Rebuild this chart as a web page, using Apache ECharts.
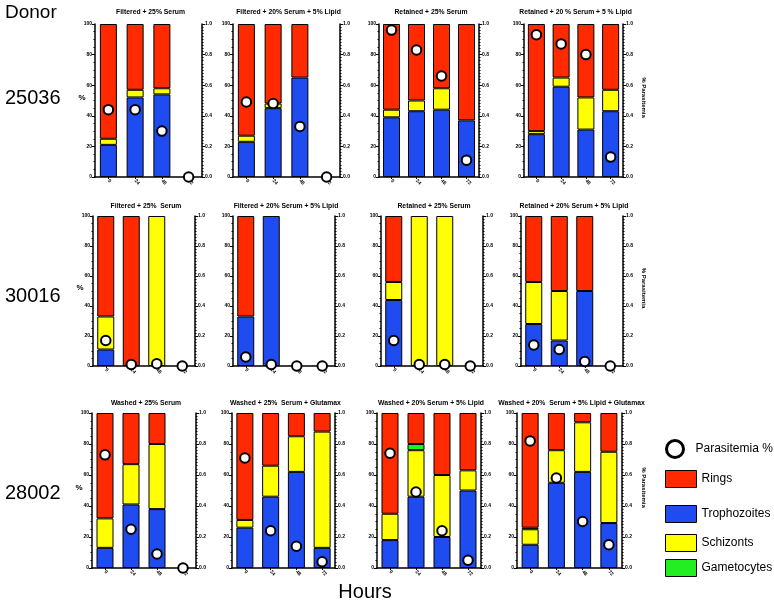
<!DOCTYPE html>
<html><head><meta charset="utf-8">
<script src="https://cdn.jsdelivr.net/npm/echarts@6/dist/echarts.min.js"></script>
<style>html,body{margin:0;padding:0;background:#fff}#c{width:774px;height:609px}</style>
</head><body><div id="c"></div>
<script>
// ---------- data ----------
const hours = ['0', '24', '48', '72'];
const donors = ['25036', '30016', '28002'];
const panelTitles = [
  'Filtered + 25% Serum', 'Filtered + 20% Serum + 5% Lipid', 'Retained + 25% Serum', 'Retained + 20 % Serum + 5 % Lipid',
  'Filtered + 25%  Serum', 'Filtered + 20% Serum + 5% Lipid', 'Retained + 25% Serum', 'Retained + 20% Serum + 5% Lipid',
  'Washed + 25% Serum', 'Washed + 25%  Serum + Glutamax', 'Washed + 20% Serum + 5% Lipid', 'Washed + 20%  Serum + 5% Lipid + Glutamax'
];
// % of parasites per stage, one row per panel (0, 24, 48, 72 h)
const trophozoites = [
  [21, 52, 54, 0], [23, 45, 65, 0], [39, 43, 44, 37], [28, 59, 31, 43],
  [11, 0, 0, 0], [33, 100, 0, 0], [44, 0, 0, 0], [28, 17, 50, 0],
  [13, 41, 38, 0], [26, 46, 62, 13], [18, 46, 20, 50], [15, 55, 62, 29]
];
const schizonts = [
  [4, 5, 4, 0], [4, 3, 0, 0], [5, 7, 14, 0], [2, 6, 21, 14],
  [22, 0, 100, 0], [0, 0, 0, 0], [12, 100, 100, 0], [28, 33, 0, 0],
  [19, 26, 42, 0], [5, 20, 23, 75], [17, 30, 40, 13], [10, 21, 32, 46]
];
const gametocytes = [
  [0, 0, 0, 0], [0, 0, 0, 0], [0, 0, 0, 0], [0, 0, 0, 0],
  [0, 0, 0, 0], [0, 0, 0, 0], [0, 0, 0, 0], [0, 0, 0, 0],
  [0, 0, 0, 0], [0, 0, 0, 0], [0, 4, 0, 0], [1, 0, 0, 0]
];
const rings = [
  [75, 43, 42, 0], [73, 52, 35, 0], [56, 50, 42, 63], [70, 35, 48, 43],
  [67, 100, 0, 0], [67, 0, 0, 0], [44, 0, 0, 0], [44, 50, 50, 0],
  [68, 33, 20, 0], [69, 34, 15, 12], [65, 20, 40, 37], [74, 24, 6, 25]
];
// parasitemia (fraction, right axis)
const parasitemia = [
  [0.44, 0.44, 0.30, 0], [0.49, 0.48, 0.33, 0], [0.96, 0.83, 0.66, 0.11], [0.93, 0.87, 0.80, 0.13],
  [0.17, 0.01, 0.015, 0], [0.06, 0.01, 0, 0], [0.17, 0.01, 0.01, 0], [0.14, 0.11, 0.03, 0],
  [0.73, 0.25, 0.09, 0], [0.71, 0.24, 0.14, 0.04], [0.74, 0.49, 0.24, 0.05], [0.82, 0.58, 0.30, 0.15]
];

// ---------- layout ----------
const gridBoxes = [
  [95, 24, 107, 153], [233, 24, 107, 153], [379, 24, 100, 153], [524, 24, 99, 153],
  [93, 216, 102, 150], [233, 216, 102, 150], [381, 216, 102, 150], [521, 216, 102, 150],
  [92, 413, 104, 155], [232, 413, 103, 155], [377, 413, 104, 155], [517, 413, 105, 155]
];
const titleY = [12, 206, 403];
const COLORS = { Rings: '#ff2a00', Trophozoites: '#1f4cf0', Schizonts: '#ffff00', Gametocytes: '#22ee22' };
const FONT = 'Liberation Sans, Arial, sans-serif';

const grids = [], xAxes = [], yAxes = [], series = [], graphics = [];
const stageSeries = [
  ['Trophozoites', trophozoites], ['Schizonts', schizonts], ['Gametocytes', gametocytes], ['Rings', rings]
];
gridBoxes.forEach((b, i) => {
  const [l, t, w, h] = b;
  const row = Math.floor(i / 4);
  grids.push({ left: l, top: t, width: w, height: h, containLabel: false });
  xAxes.push({
    type: 'category', gridIndex: i, data: hours,
    axisLine: { lineStyle: { color: '#000', width: 1.5 } },
    axisTick: { show: true, alignWithLabel: true, length: 2, lineStyle: { color: '#000' } },
    axisLabel: { fontSize: 5, fontWeight: 'bold', color: '#000', rotate: -45, margin: 3, fontFamily: FONT }
  });
  yAxes.push({
    type: 'value', gridIndex: i, min: 0, max: 100, interval: 20, position: 'left',
    axisLine: { show: true, lineStyle: { color: '#000', width: 1.5 } },
    axisTick: { show: true, length: 3, lineStyle: { color: '#000' } },
    minorTick: { show: true, splitNumber: 4, length: 1.5, lineStyle: { color: '#000' } },
    splitLine: { show: false },
    axisLabel: { fontSize: 5, fontWeight: 'bold', color: '#000', margin: 3, fontFamily: FONT }
  });
  yAxes.push({
    type: 'value', gridIndex: i, min: 0, max: 1, interval: 0.2, position: 'right',
    axisLine: { show: true, lineStyle: { color: '#000', width: 1.5 } },
    axisTick: { show: true, length: 3, lineStyle: { color: '#000' } },
    minorTick: { show: true, splitNumber: 10, length: 1.5, lineStyle: { color: '#000' } },
    splitLine: { show: false },
    axisLabel: { fontSize: 5, fontWeight: 'bold', color: '#000', margin: 3, fontFamily: FONT,
      formatter: v => v.toFixed(1) }
  });
  stageSeries.forEach(([name, arr]) => {
    series.push({
      type: 'bar', name, xAxisIndex: i, yAxisIndex: 2 * i, stack: 'p' + i, barWidth: 17,
      data: arr[i].map(v => (v === 0 ? null : v)),
      itemStyle: { color: COLORS[name], borderColor: '#000', borderWidth: 1 },
      emphasis: { disabled: true }
    });
  });
  series.push({
    type: 'scatter', name: 'Parasitemia %', xAxisIndex: i, yAxisIndex: 2 * i + 1,
    data: parasitemia[i], symbol: 'circle', symbolSize: 9.5, clip: false, z: 10,
    itemStyle: { color: '#fff', borderColor: '#000', borderWidth: 2, opacity: 1 },
    emphasis: { disabled: true }
  });
  graphics.push({
    type: 'text', x: l + w / 2 + 2, y: titleY[row], z: 20,
    style: { text: panelTitles[i], align: 'center', verticalAlign: 'middle',
      font: 'bold 6.8px ' + FONT, fill: '#000' }
  });
  if (i % 4 === 0) {
    graphics.push({ type: 'text', x: l - 13, y: t + h / 2 - 3, style: { text: '%', align: 'center',
      verticalAlign: 'middle', font: 'bold 8px ' + FONT, fill: '#000' } });
  }
  if (i % 4 === 3) {
    graphics.push({ type: 'text', x: 644, y: t + h / 2 - 3, rotation: -Math.PI / 2, style: { text: '% Parasitemia',
      align: 'center', verticalAlign: 'middle', font: 'bold 6px ' + FONT, fill: '#000' } });
  }
});

graphics.push({ type: 'text', x: 5, y: 13, style: { text: 'Donor', verticalAlign: 'middle', font: '19px ' + FONT, fill: '#000' } });
const donorY = [98, 296, 493];
donors.forEach((d, k) => graphics.push({ type: 'text', x: 5, y: donorY[k],
  style: { text: d, verticalAlign: 'middle', font: '20px ' + FONT, fill: '#000' } }));
graphics.push({ type: 'text', x: 365, y: 592, style: { text: 'Hours', align: 'center', verticalAlign: 'middle', font: '20px ' + FONT, fill: '#000' } });

const legendItems = [
  ['Parasitemia %', 434, 'circle'], ['Rings', 465, 'rect'], ['Trophozoites', 500, 'rect'],
  ['Schizonts', 529, 'rect'], ['Gametocytes', 554, 'rect']
];
const legends = legendItems.map(([name, top, icon]) => ({
  data: [{ name, icon }], left: 660, top, itemWidth: 31, itemHeight: 17, selectedMode: false,
  itemStyle: icon === 'circle'
    ? { color: '#fff', borderColor: '#000', borderWidth: 3 }
    : { borderColor: '#000', borderWidth: 1 },
  textStyle: { fontSize: 12, color: '#000', fontFamily: FONT }
}));

const chart = echarts.init(document.getElementById('c'), null, { renderer: 'canvas' });
chart.setOption({
  animation: false,
  backgroundColor: '#fff',
  grid: grids, xAxis: xAxes, yAxis: yAxes, series, legend: legends, graphic: graphics
});
</script></body></html>
